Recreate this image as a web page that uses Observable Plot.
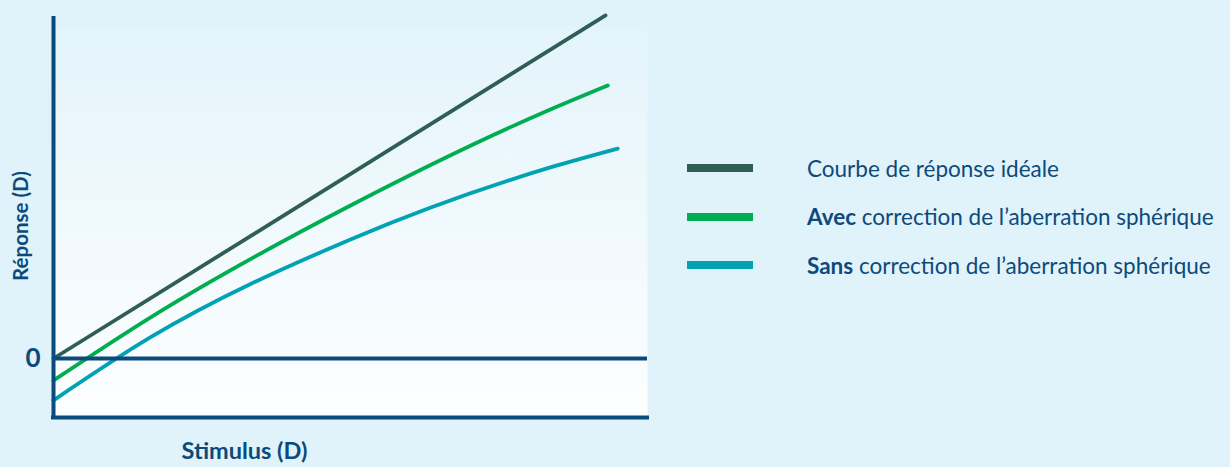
<!DOCTYPE html>
<html>
<head>
<meta charset="utf-8">
<script src="https://cdn.jsdelivr.net/npm/d3@7"></script>
<script src="https://cdn.jsdelivr.net/npm/@observablehq/plot@0.6"></script>
<style>
  html, body { margin: 0; padding: 0; background: #e0f2fa; }
  #wrap { position: relative; width: 1230px; height: 467px; font-family: Lato, "Noto Sans", sans-serif; }
  #legend { position: absolute; left: 687px; top: 144px; color: #0d4a7c; font-size: 22.5px; }
  .row { display: flex; align-items: center; height: 48.5px; }
  .sw { width: 66px; height: 8px; margin-right: 54px; flex: none; }
  .row span.t { white-space: nowrap; }
  .row b { font-weight: 700; }
</style>
</head>
<body>
<div id="wrap"></div>
<script>
// Data
const stimIdeal = [0, 10];
const respIdeal = [0, 10];
const stimAvec = [0, 1.76, 5.38, 9.0, 10.04];
const respAvec = [-0.64, 1.20, 4.46, 7.26, 7.96];
const stimSans = [0, 1.76, 5.38, 9.0, 10.22];
const respSans = [-1.22, 0.62, 3.47, 5.57, 6.12];
const xDomain = [0, 10.76];
const yDomain = [-1.72, 9.97];
const yTicks = [0];
const seriesNames = ["Courbe de réponse idéale", "Avec", "Sans"];
const seriesRest = ["", " correction de l’aberration sphérique", " correction de l’aberration sphérique"];
const seriesColors = ["#2f5e56", "#00ad50", "#00a2b3"];
const xLabel = "Stimulus (D)";
const yLabel = "Réponse (D)";

const toRows = (xs, ys, name) => xs.map((x, i) => ({x, y: ys[i], name}));
const data = [
  ...toRows(stimIdeal, respIdeal, seriesNames[0]),
  ...toRows(stimAvec, respAvec, seriesNames[1]),
  ...toRows(stimSans, respSans, seriesNames[2])
];

const axisColor = "#0a4b7c";

const svg = Plot.plot({
  width: 1230,
  height: 467,
  marginLeft: 53,
  marginRight: 583,
  marginTop: 16,
  marginBottom: 50,
  style: {background: "transparent", fontFamily: "Lato, 'Noto Sans', sans-serif", overflow: "visible"},
  x: {domain: xDomain, axis: null},
  y: {domain: yDomain, axis: null},
  color: {domain: seriesNames, range: seriesColors},
  marks: [
    Plot.frame({fill: "url(#bggrad)", stroke: "none", insetTop: 9}),
    Plot.line(data, {x: "x", y: "y", z: "name", stroke: "name", strokeWidth: 3.8, curve: "monotone-x"}),
    Plot.ruleY(yTicks, {stroke: axisColor, strokeWidth: 4}),
    Plot.ruleY([yDomain[0]], {stroke: axisColor, strokeWidth: 4, strokeLinecap: "square"}),
    Plot.ruleX([xDomain[0]], {stroke: axisColor, strokeWidth: 4}),
    Plot.text(yTicks, {y: d => d, frameAnchor: "left", textAnchor: "end", dx: -13, text: d => String(d),
      fill: axisColor, fontSize: 26, fontWeight: 700}),
    Plot.text([yLabel], {frameAnchor: "left", rotate: -90, dx: -32, dy: 9, text: d => d,
      fill: axisColor, fontSize: 20.5, fontWeight: 700, textAnchor: "middle"}),
    Plot.text([xLabel], {frameAnchor: "bottom-left", dx: 191, dy: 34, text: d => d, lineAnchor: "middle",
      fill: axisColor, fontSize: 23.5, fontWeight: 700, textAnchor: "middle"})
  ]
});

d3.select(svg).insert("defs", ":first-child").html(
  '<linearGradient id="bggrad" x1="0" y1="0" x2="0" y2="1">' +
  '<stop offset="0" stop-color="#e3f4fb"/><stop offset="1" stop-color="#fdfeff"/></linearGradient>'
);

const wrap = document.getElementById("wrap");
wrap.appendChild(svg);

const legend = document.createElement("div");
legend.id = "legend";
seriesNames.forEach((n, i) => {
  const row = document.createElement("div");
  row.className = "row";
  const sw = document.createElement("span");
  sw.className = "sw";
  sw.style.background = seriesColors[i];
  row.appendChild(sw);
  const t = document.createElement("span");
  t.className = "t";
  if (seriesRest[i]) {
    const b = document.createElement("b");
    b.textContent = n;
    t.appendChild(b);
    t.appendChild(document.createTextNode(seriesRest[i]));
  } else {
    t.textContent = n;
  }
  row.appendChild(t);
  legend.appendChild(row);
});
wrap.appendChild(legend);
</script>
</body>
</html>
